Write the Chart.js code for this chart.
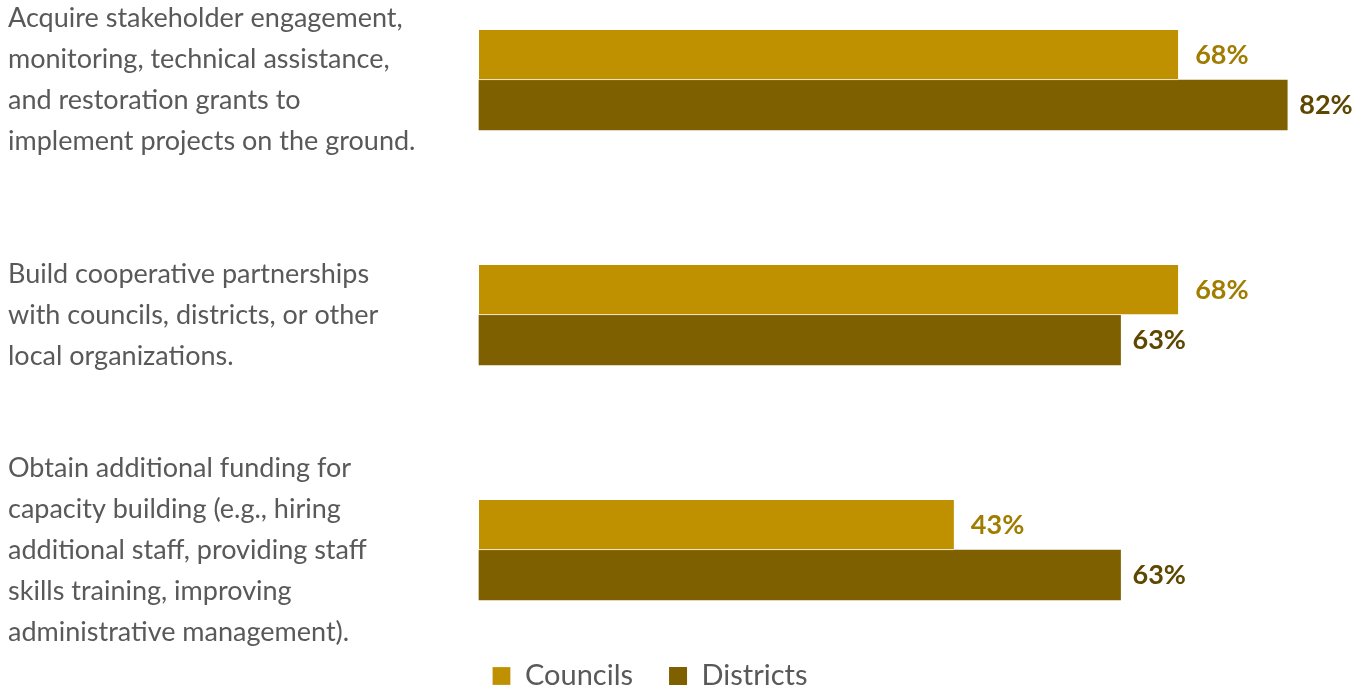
<!DOCTYPE html>
<html>
<head>
<meta charset="utf-8">
<title>Councils and Districts</title>
<script src="https://cdn.jsdelivr.net/npm/chart.js@4"></script>
<style>
  html, body { margin: 0; padding: 0; background: #fff; }
  #wrap { width: 1365px; height: 692px; position: relative; }
</style>
</head>
<body>
<div id="wrap"><canvas id="barsChart"></canvas></div>
<script>
// categories (one array per label, one entry per line)
var categories = [
    ['Acquire stakeholder engagement,', 'monitoring, technical assistance,', 'and restoration grants to', 'implement projects on the ground.'],
    ['Build cooperative partnerships', 'with councils, districts, or other', 'local organizations.'],
    ['Obtain additional funding for', 'capacity building (e.g., hiring', 'additional staff, providing staff', 'skills training, improving', 'administrative management).']
];

var councilValues = [69.2, 69.2, 47.0];
var districtValues = [80.0, 63.5, 63.5];
var councilLabels = ['68%', '68%', '43%'];
var districtLabels = ['82%', '63%', '63%'];

var FONT = 'Lato, "Open Sans", sans-serif';

// draws the percentage next to the end of each bar
var barLabels = {
    id: 'barLabels',
    afterDatasetsDraw: function (chart) {
        var ctx = chart.ctx;
        ctx.save();
        ctx.font = 'bold 27px ' + FONT;
        ctx.textBaseline = 'middle';
        ctx.textAlign = 'left';
        chart.data.datasets.forEach(function (ds, i) {
            chart.getDatasetMeta(i).data.forEach(function (bar, j) {
                ctx.fillStyle = ds.labelColor;
                ctx.fillText(ds.valueLabels[j], bar.x + ds.labelGap, bar.y);
            });
        });
        ctx.restore();
    }
};

// legend sits a little left of the canvas centre in the original
var legendShift = {
    id: 'legendShift',
    afterLayout: function (chart) {
        chart.legend.right -= 68;
    }
};

var ctx = document.getElementById('barsChart').getContext('2d');

new Chart(ctx, {
    type: 'bar',
    data: {
        labels: categories,
        datasets: [{
            label: 'Councils',
            data: councilValues,
            valueLabels: councilLabels,
            labelColor: '#A07C00',
            labelGap: 17,
            backgroundColor: '#BF9000',
            borderColor: '#ffffff',
            borderWidth: {top: 0, right: 0, bottom: 1, left: 0},
            borderSkipped: false,
            barThickness: 50,
            clip: false
        }, {
            label: 'Districts',
            data: districtValues,
            valueLabels: districtLabels,
            labelColor: '#5E4700',
            labelGap: 12,
            backgroundColor: '#7F6000',
            borderWidth: 0,
            barThickness: 50,
            clip: false
        }]
    },
    options: {
        indexAxis: 'y',
        responsive: true,
        maintainAspectRatio: false,
        animation: false,
        layout: {
            padding: {left: 8, right: 5, top: 80, bottom: -8.5}
        },
        scales: {
            y: {
                offset: false,
                grid: {display: false},
                border: {display: false},
                ticks: {
                    autoSkip: false,
                    crossAlign: 'far',
                    color: '#595959',
                    font: {family: FONT, size: 27, lineHeight: '41px'}
                },
                afterFit: function (scale) {
                    scale.width = 471;
                    // tall multi-line labels must not push the plot area in
                    scale.paddingTop = 0;
                    scale.paddingBottom = 0;
                }
            },
            x: {
                min: 0,
                max: 87.2,
                grid: {display: false},
                border: {display: false},
                ticks: {display: false},
                afterFit: function (scale) {
                    scale.height = 75.5;
                }
            }
        },
        plugins: {
            legend: {
                position: 'bottom',
                labels: {
                    boxWidth: 18,
                    boxHeight: 18,
                    padding: 36,
                    color: '#595959',
                    font: {family: FONT, size: 29}
                }
            },
            tooltip: {enabled: false}
        }
    },
    plugins: [barLabels, legendShift]
});
</script>
</body>
</html>
